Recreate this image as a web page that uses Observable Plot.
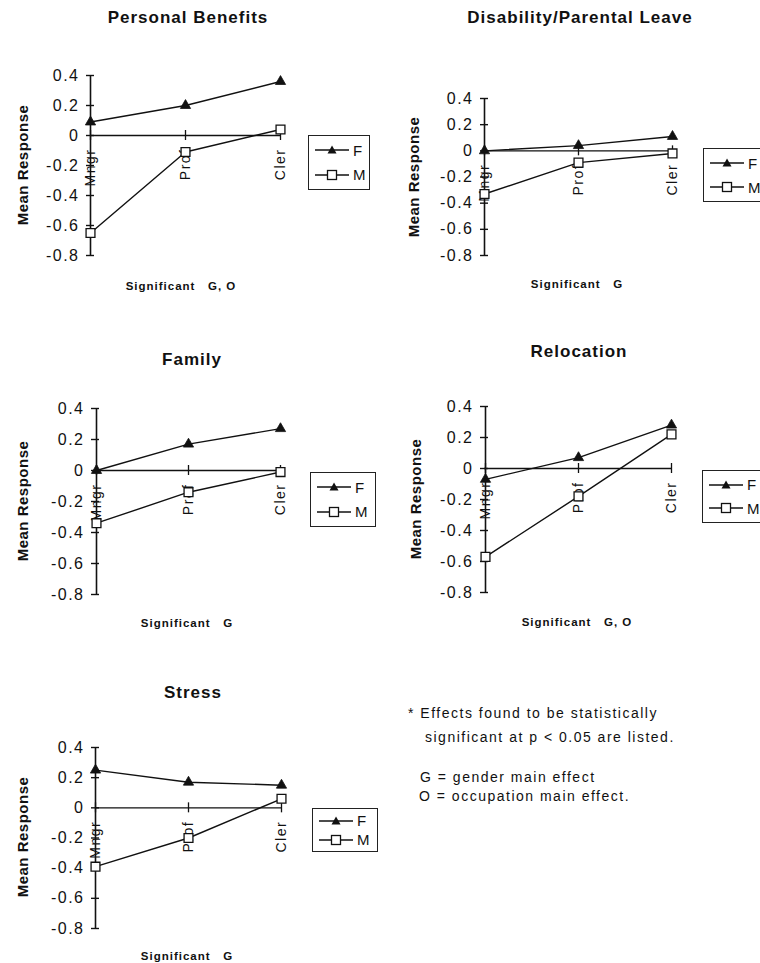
<!DOCTYPE html>
<html>
<head>
<meta charset="utf-8">
<script src="https://cdn.jsdelivr.net/npm/d3@7"></script>
<script src="https://cdn.jsdelivr.net/npm/@observablehq/plot@0.6"></script>
<style>
  html, body { margin: 0; padding: 0; background: #fff; }
  #chart { position: relative; width: 760px; height: 963px; overflow: hidden; font-family: "Liberation Sans", Arial, sans-serif; color: #111; }
  .abs { position: absolute; white-space: pre; }
  .title { font-weight: bold; font-size: 17px; letter-spacing: 1px; transform: translate(-50%, -50%); }
  .ylab { font-weight: bold; font-size: 15px; letter-spacing: 0.5px; transform: translate(-50%, -50%) rotate(-90deg); }
  .sig { font-weight: bold; font-size: 11.5px; letter-spacing: 1px; transform: translate(-50%, -50%); }
  .legend { border: 1.5px solid #222; box-sizing: border-box; display: flex; flex-direction: column; justify-content: space-around; padding: 2px 0 2px 4px; background: #fff; }
  .legrow { display: flex; align-items: center; font-size: 15px; line-height: 15px; }
  .legrow svg { margin-right: 2px; }
  .note { font-size: 14px; letter-spacing: 1.5px; line-height: 16px; transform: translateY(-50%); }
</style>
</head>
<body>
<div id="chart"></div>
<script>
// ---- data ----
const occupations = ["Mngr", "Prof", "Cler"];
const panelTitles = ["Personal Benefits", "Disability/Parental Leave", "Family", "Relocation", "Stress"];
const significance = ["G, O", "G", "G", "G, O", "G"];
const sexes = ["F", "M"];
const yTicks = [0.4, 0.2, 0, -0.2, -0.4, -0.6, -0.8];

const benefitsF   = [0.09, 0.20, 0.36];
const benefitsM   = [-0.65, -0.11, 0.04];
const disabilityF = [0.00, 0.04, 0.11];
const disabilityM = [-0.33, -0.09, -0.02];
const familyF     = [0.00, 0.17, 0.27];
const familyM     = [-0.34, -0.14, -0.01];
const relocationF = [-0.07, 0.07, 0.28];
const relocationM = [-0.57, -0.18, 0.22];
const stressF     = [0.25, 0.17, 0.15];
const stressM     = [-0.39, -0.20, 0.06];

const seriesF = [benefitsF, disabilityF, familyF, relocationF, stressF];
const seriesM = [benefitsM, disabilityM, familyM, relocationM, stressM];

const noteLines = [
  "* Effects found to be statistically",
  "significant at p < 0.05 are listed.",
  "G = gender main effect",
  "O = occupation main effect."
];

// ---- layout (pixel positions of each panel) ----
const layout = [
  {px: 0,   ax: 90,  cx: 280, top: 75,  bottom: 255, title: [188, 18],  ylab: [22, 165],  sig: [181, 286], leg: [308, 135, 62, 55]},
  {px: 380, ax: 484, cx: 672, top: 98,  bottom: 255, title: [580, 18],  ylab: [413, 177], sig: [577, 284], leg: [703, 148, 62, 54]},
  {px: 0,   ax: 95,  cx: 280, top: 408, bottom: 594, title: [192, 360], ylab: [22, 501],  sig: [187, 623], leg: [310, 472, 66, 55]},
  {px: 380, ax: 484, cx: 671, top: 406, bottom: 592, title: [579, 352], ylab: [415, 499], sig: [577, 622], leg: [702, 470, 62, 53]},
  {px: 0,   ax: 95,  cx: 281, top: 747, bottom: 928, title: [193, 693], ylab: [22, 837],  sig: [187, 956], leg: [312, 808, 66, 44]}
];
const notePos = [[408, 713], [425, 737], [420, 777], [419, 796]];

const chart = document.getElementById("chart");
function addDiv(cls, text, x, y) {
  const d = document.createElement("div");
  d.className = "abs " + cls;
  d.textContent = text;
  d.style.left = x + "px";
  d.style.top = y + "px";
  chart.appendChild(d);
  return d;
}

function legendSwatch(sex) {
  const ns = "http://www.w3.org/2000/svg";
  const s = document.createElementNS(ns, "svg");
  s.setAttribute("width", 38); s.setAttribute("height", 14);
  const l = document.createElementNS(ns, "line");
  l.setAttribute("x1", 2); l.setAttribute("x2", 36); l.setAttribute("y1", 7); l.setAttribute("y2", 7);
  l.setAttribute("stroke", "#111"); l.setAttribute("stroke-width", 1.4);
  s.appendChild(l);
  if (sex === "F") {
    const p = document.createElementNS(ns, "polygon");
    p.setAttribute("points", "19,2.5 23.5,10.5 14.5,10.5");
    p.setAttribute("fill", "#111");
    s.appendChild(p);
  } else {
    const r = document.createElementNS(ns, "rect");
    r.setAttribute("x", 14.5); r.setAttribute("y", 2.5); r.setAttribute("width", 9); r.setAttribute("height", 9);
    r.setAttribute("fill", "#fff"); r.setAttribute("stroke", "#111"); r.setAttribute("stroke-width", 1.3);
    s.appendChild(r);
  }
  return s;
}

const yMin = d3.min(yTicks), yMax = d3.max(yTicks);

panelTitles.forEach((title, i) => {
  const L = layout[i];
  const rows = [];
  occupations.forEach((occ, j) => {
    rows.push({sex: "F", occ, value: seriesF[i][j]});
    rows.push({sex: "M", occ, value: seriesM[i][j]});
  });
  const mt = 20, mb = 20;
  const height = (L.bottom - L.top) + mt + mb;
  const plot = Plot.plot({
    width: 380,
    height,
    marginLeft: L.ax - L.px,
    marginRight: L.px + 380 - L.cx,
    marginTop: mt,
    marginBottom: mb,
    style: {fontFamily: "Liberation Sans, Arial, sans-serif", fontSize: "16px", letterSpacing: "1.5px", background: "transparent", overflow: "visible", color: "#111"},
    x: {type: "point", domain: occupations, padding: 0, axis: null},
    y: {domain: [yMin, yMax], axis: null},
    marks: [
      Plot.text(occupations, {x: d => d, y: 0, text: d => d, rotate: -90, textAnchor: "end", dy: 13, fontSize: 14, fill: "#111", style: "letter-spacing:1px"}),
      Plot.ruleY([0], {stroke: "#111", strokeWidth: 1.4}),
      Plot.ruleX(occupations, {x: d => d, y1: 0, y2: 0, insetTop: -5, insetBottom: -5, stroke: "#111", strokeWidth: 1.3}),
      Plot.ruleX([occupations[0]], {x: d => d, y1: yMin, y2: yMax, stroke: "#111", strokeWidth: 1.6}),
      Plot.axisY({ticks: yTicks, label: null, tickFormat: d => d === 0 ? "0" : d.toFixed(1), tickSize: 8, dx: 4, tickPadding: 7, strokeWidth: 1.4, stroke: "#111", fill: "#111"}),
      Plot.line(rows, {x: "occ", y: "value", z: "sex", stroke: "#111", strokeWidth: 1.4}),
      Plot.dot(rows.filter(d => d.sex === "F"), {x: "occ", y: "value", symbol: "triangle", r: 3.8, fill: "#111", stroke: "#111", strokeWidth: 0.8}),
      Plot.dot(rows.filter(d => d.sex === "M"), {x: "occ", y: "value", symbol: "square", r: 5, fill: "#fff", stroke: "#111", strokeWidth: 1.3})
    ]
  });
  plot.style.position = "absolute";
  plot.style.left = L.px + "px";
  plot.style.top = (L.top - mt) + "px";
  chart.appendChild(plot);

  addDiv("title", title, L.title[0], L.title[1]);
  addDiv("ylab", "Mean Response", L.ylab[0], L.ylab[1]);
  addDiv("sig", "Significant   " + significance[i], L.sig[0], L.sig[1]);

  const leg = document.createElement("div");
  leg.className = "abs legend";
  leg.style.left = L.leg[0] + "px";
  leg.style.top = L.leg[1] + "px";
  leg.style.width = L.leg[2] + "px";
  leg.style.height = L.leg[3] + "px";
  sexes.forEach(s => {
    const row = document.createElement("div");
    row.className = "legrow";
    row.appendChild(legendSwatch(s));
    const t = document.createElement("span");
    t.textContent = s;
    row.appendChild(t);
    leg.appendChild(row);
  });
  chart.appendChild(leg);
});

noteLines.forEach((t, k) => addDiv("note", t, notePos[k][0], notePos[k][1]));
</script>
</body>
</html>
